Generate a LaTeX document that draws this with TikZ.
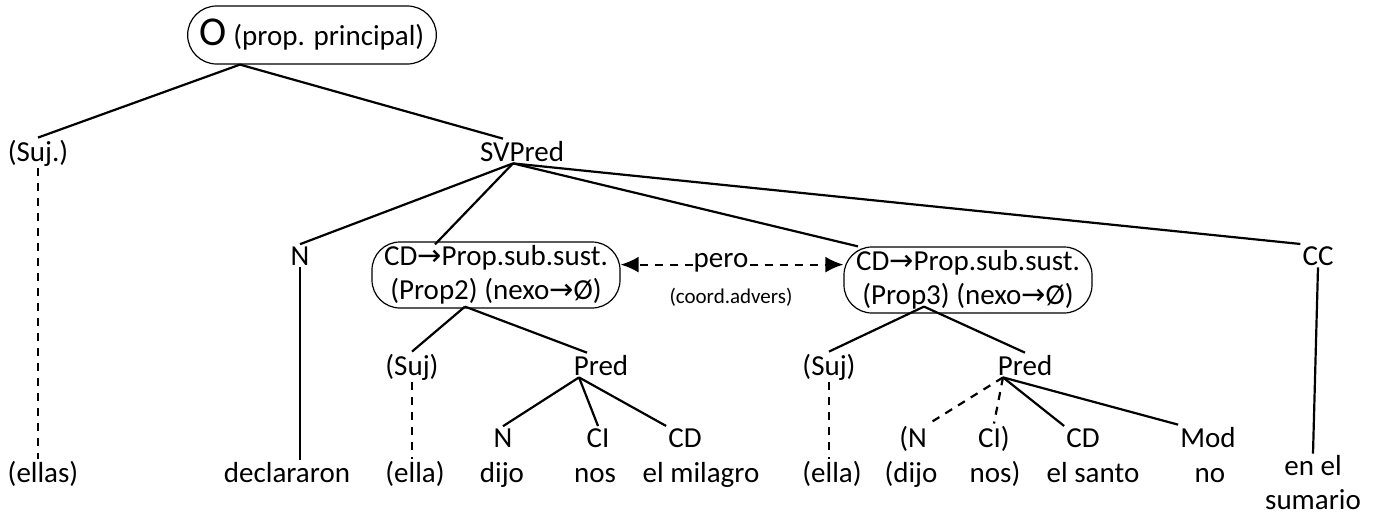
\documentclass[tikz,border=0pt]{standalone}
\usepackage{fontspec}
\setmainfont{Carlito}
\newfontfamily\arrowfont{DejaVu Sans}
\usetikzlibrary{arrows.meta}
\newcommand{\toarrow}{{\arrowfont\char"2192}}
\tikzset{
  lbl/.style={inner sep=2pt, anchor=base},
  prop/.style={draw, line width=1.2pt, rounded corners=28pt, align=center,
    minimum width=248pt, minimum height=66pt, inner sep=3pt},
  branch/.style={line width=2.2pt},
  hidden/.style={line width=2.2pt, dash pattern=on 8pt off 7pt}
}
\begin{document}
\begin{tikzpicture}[x=1pt, y=-1pt, font=\fontsize{29}{34}\selectfont,
    >={Latex[length=18pt,width=16pt]}]
      \useasboundingbox (0,0) rectangle (1382,516);

      \node[draw, line width=1.2pt, rounded corners=29pt, minimum height=58pt,
        inner xsep=12pt] (root) at (312,35)
        {{\fontsize{41}{44}\selectfont O} (prop. principal)};

      \node[lbl] (sujA) at (38,161) {(Suj.)};
      \node[lbl] (svpred) at (522,161) {SVPred};

      \node[lbl] (nA) at (300,265) {N};
      \node[prop] (boxA) at (496,275)
        {CD\toarrow Prop.sub.sust.\\(Prop2) (nexo\toarrow Ø)};
      \node[lbl, inner sep=1pt] (pero) at (721,267) {pero};
      \node[font=\fontsize{21}{25}\selectfont] (coord) at (731,297)
        {(coord.advers)};
      \node[prop] (boxB) at (968,280)
        {CD\toarrow Prop.sub.sust.\\(Prop3) (nexo\toarrow Ø)};
      \node[lbl] (cc) at (1318,265) {CC};

      \node[lbl] (sujB) at (412,375) {(Suj)};
      \node[lbl] (predA) at (601,375) {Pred};
      \node[lbl] (sujC) at (829,375) {(Suj)};
      \node[lbl] (predB) at (1025,375) {Pred};

      \node[lbl] (nB) at (503,447) {N};
      \node[lbl] (ciA) at (598,447) {CI};
      \node[lbl] (cdA) at (685,447) {CD};
      \node[lbl] (nC) at (913,447) {(N};
      \node[lbl] (ciB) at (994,447) {CI)};
      \node[lbl] (cdB) at (1083,447) {CD};
      \node[lbl] (mod) at (1208,447) {Mod};

      \node[lbl] (ellas) at (43,482) {(ellas)};
      \node[lbl] (decl) at (287,482) {declararon};
      \node[lbl] (ellaA) at (415,482) {(ella)};
      \node[lbl] (dijoA) at (502,482) {dijo};
      \node[lbl] (nosA) at (595,482) {nos};
      \node[lbl] (milagro) at (701,482) {el milagro};
      \node[lbl] (ellaB) at (832,482) {(ella)};
      \node[lbl] (dijoB) at (911,482) {(dijo};
      \node[lbl] (nosB) at (995,482) {nos)};
      \node[lbl] (santo) at (1093,482) {el santo};
      \node[lbl] (no) at (1210,482) {no};
      \node[align=center, inner sep=0pt] (sumario) at (1313,483)
        {en el\\sumario};

      \draw[branch] ([xshift=-72pt]root.south) -- (sujA.north);
      \draw[branch] ([xshift=-72pt]root.south) -- ([xshift=-19pt]svpred.north);
      \draw[hidden] (sujA.south) -- (sujA.south |- ellas.north);

      \draw[branch] ([xshift=-9pt]svpred.south) -- (nA.north);
      \draw[branch] ([xshift=-9pt]svpred.south) -- ([xshift=-61pt,yshift=-3pt]boxA.north);
      \draw[branch] ([xshift=-9pt]svpred.south) -- ([xshift=-110pt]boxB.north);
      \draw[branch] ([xshift=-9pt]svpred.south) -- (cc.north west);
      \draw[branch] (nA.south) -- (nA.south |- decl.north);
      \draw[branch] (cc.south) -- ([yshift=2pt]sumario.north);

      \draw[hidden, ->] (pero.mid west) -- (pero.mid west -| boxA.east);
      \draw[hidden, ->] (pero.mid east) -- (pero.mid east -| boxB.west);

      \draw[branch] ([xshift=-31pt,yshift=2pt]boxA.south) -- (sujB.north);
      \draw[branch] ([xshift=-31pt,yshift=2pt]boxA.south) -- ([xshift=-14pt]predA.north);
      \draw[hidden] (sujB.south) -- (sujB.south |- ellaA.north);
      \draw[branch] ([xshift=-22pt]predA.south) -- (nB.north);
      \draw[branch] ([xshift=-22pt]predA.south) -- (ciA.north);
      \draw[branch] ([xshift=-22pt]predA.south) -- (cdA.north west);

      \draw[branch] ([xshift=-44pt,yshift=7pt]boxB.south) -- (sujC.north);
      \draw[branch] ([xshift=-44pt,yshift=7pt]boxB.south) -- (predB.north);
      \draw[hidden] (sujC.south) -- (sujC.south |- ellaB.north);
      \draw[hidden] ([xshift=-22pt]predB.south) -- (nC.north east);
      \draw[hidden] ([xshift=-22pt]predB.south) -- (ciB.north);
      \draw[branch] ([xshift=-22pt]predB.south) -- (cdB.north west);
      \draw[branch] ([xshift=-22pt]predB.south) -- (mod.north west);
\end{tikzpicture}
\end{document}
